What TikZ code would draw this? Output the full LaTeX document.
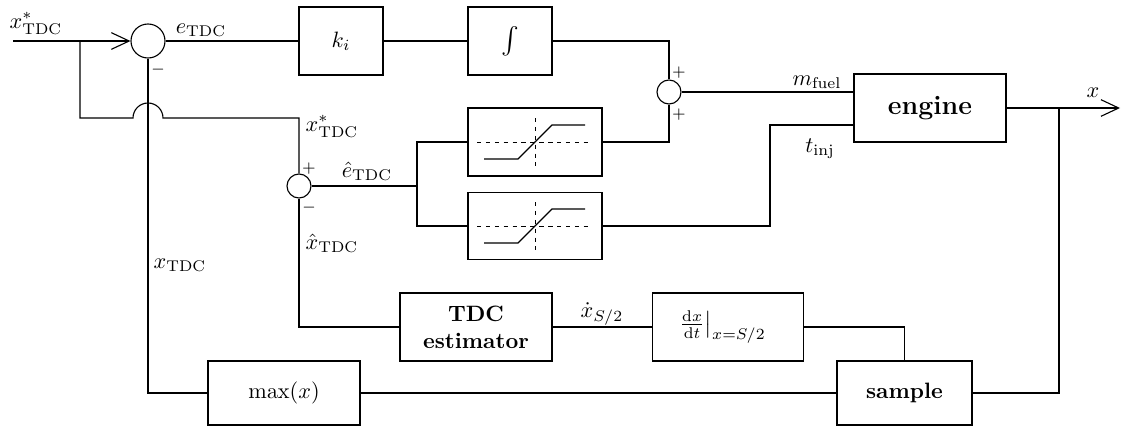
\documentclass[tikz,border=0pt]{standalone}
\usepackage{amsmath}
\usetikzlibrary{arrows.meta,calc}

\tikzset{
  blk/.style={draw, line width=0.5pt, inner sep=0pt, align=center},
  sumj/.style={draw, circle, line width=0.5pt, inner sep=0pt},
  wire/.style={line width=0.5pt},
  sig/.style={wire, -{Straight Barb[length=8pt,width=7.5pt,line width=0.5pt]}},
  lbl/.style={anchor=base, inner sep=0pt},
  sgn/.style={inner sep=0pt, font=\scriptsize},
  satgrid/.style={line width=0.45pt, dash pattern=on 2pt off 2pt},
  satcurve/.style={line width=0.5pt}
}

\begin{document}
\begin{tikzpicture}[x=0.45pt, y=-0.45pt]
\useasboundingbox (0,0) rectangle (1122,428);

% blocks
\node[blk, minimum width=84*0.45pt, minimum height=68*0.45pt] (ki) at (341,41) {$k_i$};
\node[blk, minimum width=84*0.45pt, minimum height=68*0.45pt, font=\large] (int) at (510,41) {$\int$};
\node[blk, minimum width=134*0.45pt, minimum height=68*0.45pt] (sat1) at (535,142) {};
\node[blk, minimum width=134*0.45pt, minimum height=67*0.45pt] (sat2) at (535,226) {};
\node[blk, minimum width=152*0.45pt, minimum height=68*0.45pt, font=\large\bfseries] (engine) at (930,108) {engine};
\node[blk, minimum width=152*0.45pt, minimum height=68*0.45pt, font=\bfseries] (tdc) at (476,327) {TDC\\estimator};
\node[blk, minimum width=151*0.45pt, minimum height=68*0.45pt] (der) at (728,327)
  {$\left.\frac{\mathrm{d}x}{\mathrm{d}t}\right|_{x=S/2}$\hspace{6pt}};
\node[blk, minimum width=152*0.45pt, minimum height=64*0.45pt] (maxx) at (284,393) {$\max(x)$};
\node[blk, minimum width=135*0.45pt, minimum height=64*0.45pt, font=\bfseries] (sample) at (904.5,393) {sample};

% summing junctions
\node[sumj, minimum size=34*0.45pt] (s1) at (148,41) {};
\node[sumj, minimum size=24*0.45pt] (s2) at (669,92) {};
\node[sumj, minimum size=24*0.45pt] (s3) at (299,186) {};

% saturation characteristics
\foreach \s in {sat1,sat2}{
  \begin{scope}[shift={(\s.center)}]
    \draw[satgrid] (-58,0) -- (54,0);
    \draw[satgrid] (0,-24) -- (0,24);
    \draw[satcurve] (-51,17) -- (-17,17) -- (17,-17) -- (50,-17);
  \end{scope}
}

% free ends and branch points
\coordinate (in) at (13,41);
\coordinate (b1) at (80,41);
\coordinate (jl) at (133,118);
\coordinate (c3) at (299,118);
\coordinate (split) at (417,186);
\coordinate (tturn) at (770,125);
\coordinate (ob) at (1059,108);
\coordinate (out) at (1120,108);

% forward path
\draw[sig] (in) -- (s1.west);
\draw[wire] (s1.east) -- (ki.west);
\draw[wire] (ki.east) -- (int.west);
\draw[wire] (int.east) -| (s2.north);
\draw[wire] (s2.south) |- (sat1.east);
\draw[wire] (s2.east) -- (s2.east -| engine.west);
\draw[wire] (sat2.east) -| (tturn) -- (tturn -| engine.west);
\draw[sig] (engine.east) -- (out);

% reference branch with jump over the feedback wire
\draw[wire] (b1) |- (jl) arc[start angle=180, end angle=0, radius=6.75pt] -- (c3) -- (s3.north);

% estimator path
\draw[wire] (s3.east) -- (split);
\draw[wire] (sat1.west) -| (split) |- (sat2.west);
\draw[wire] (s3.south) |- (tdc.west);
\draw[wire] (tdc.east) -- (der.west);
\draw[wire] (der.east) -| (sample.north);

% measurement feedback
\draw[wire] (ob) |- (sample.east);
\draw[wire] (sample.west) -- (maxx.east);
\draw[wire] (maxx.west) -| (s1.south);

% signal labels
\node[lbl] (lxin) at (36,28) {$x^*_{\mathrm{TDC}}$};
\node[lbl] (le) at (201,33) {$e_{\mathrm{TDC}}$};
\node[lbl] (lxs) at (332,131) {$x^*_{\mathrm{TDC}}$};
\node[lbl] (lhe) at (367,177) {$\hat{e}_{\mathrm{TDC}}$};
\node[lbl] (lhx) at (332,249) {$\hat{x}_{\mathrm{TDC}}$};
\node[lbl] (lx) at (180,268) {$x_{\mathrm{TDC}}$};
\node[lbl] (lm) at (817,85) {$m_{\mathrm{fuel}}$};
\node[lbl] (lt) at (820,152) {$t_{\mathrm{inj}}$};
\node[lbl] (lout) at (1093,97) {$x$};
\node[lbl] (ld) at (602,317) {$\dot{x}_{S/2}$};

% signs
\node[sgn] (m1) at (158,70) {$-$};
\node[sgn] (p3) at (309,169) {$+$};
\node[sgn] (m3) at (309,208) {$-$};
\node[sgn] (p2a) at (679,73) {$+$};
\node[sgn] (p2b) at (679,115) {$+$};
\end{tikzpicture}
\end{document}
